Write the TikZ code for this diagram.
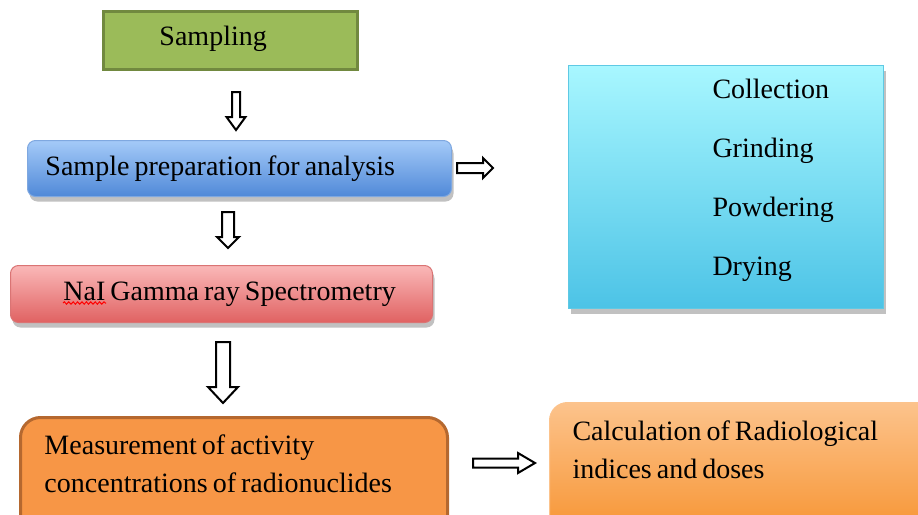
\documentclass[tikz,border=0pt]{standalone}
\usepackage{fontspec}
\setmainfont{Liberation Serif}
\usetikzlibrary{calc,shadows,decorations.pathmorphing}
\definecolor{sampfill}{HTML}{9BBB59}
\definecolor{sampedge}{HTML}{71893F}
\definecolor{preptop}{HTML}{A4CAF8}
\definecolor{prepbot}{HTML}{5089D8}
\definecolor{prepedge}{HTML}{7FA8E0}
\definecolor{naitop}{HTML}{FAB8B8}
\definecolor{naibot}{HTML}{E06262}
\definecolor{naiedge}{HTML}{DA7474}
\definecolor{measfill}{HTML}{F79646}
\definecolor{measedge}{HTML}{B5682F}
\definecolor{colltop}{HTML}{A8F7FF}
\definecolor{collbot}{HTML}{4CC3E6}
\definecolor{colledge}{HTML}{5FC9E4}
\definecolor{calctop}{HTML}{FCC38C}
\definecolor{calcbot}{HTML}{F7922E}
\newcommand\blockarrow[5]{%
  \draw[hollow] let \p1=($(#2)-(#1)$), \n1={veclen(\x1,\y1)}, \n2={atan2(\y1,\x1)} in
    [shift={(#1)}, rotate=\n2] (0pt,#3) -- ({\n1*1pt-#5},#3) -- ({\n1*1pt-#5},#4)
    -- ({\n1*1pt},0pt) -- ({\n1*1pt-#5},-#4) -- ({\n1*1pt-#5},-#3) -- (0pt,-#3) -- cycle;}
\begin{document}
\begin{tikzpicture}[x=.5pt,y=-.5pt,
  every node/.style={font=\fontsize{14}{18.75}\selectfont, inner sep=0pt, anchor=north west},
  box/.style n args={4}{text width=#1pt, text height=#2pt, text depth=#3pt,
    execute at begin node={\raggedright\leftskip=#4pt\relax\spaceskip=.18em plus .1em minus .05em\relax}},
  lift/.style={drop shadow={shadow xshift=1pt, shadow yshift=-2.5pt, opacity=.35, fill=black!70}},
  hollow/.style={draw, fill=white, line width=1pt, line join=miter},
  squiggle/.style={red, line width=.5pt, decorate, decoration={snake, amplitude=.6pt, segment length=2.2pt}}]
  \useasboundingbox (0,0) rectangle (918,515);
  \node[box={127}{17}{12}{28}, fill=sampfill, draw=sampedge, line width=1.5pt] (samp) at (102,10) {Sampling};
  \node[box={212}{17.5}{10.5}{9}, rounded corners=4pt, lift, top color=preptop, bottom color=prepbot,
    draw=prepedge, line width=.5pt] (prep) at (27,140) {Sample preparation for analysis};
  \node[box={211}{17.5}{11}{26.5}, rounded corners=4pt, lift, top color=naitop, bottom color=naibot,
    draw=naiedge, line width=.5pt] (nai) at (10,265) {NaI Gamma ray Spectrometry};
  \node[box={213.5}{18.5}{43.5}{12}, rounded corners=10pt, fill=measfill, draw=measedge,
    line width=1.5pt] (meas) at (19,416) {Measurement of activity\\concentrations of radionuclides};
  \node[box={157.5}{16.5}{105}{72}, font=\fontsize{14}{29.5}\selectfont, lift, top color=colltop,
    bottom color=collbot, draw=colledge, line width=.5pt] (coll) at (568,65)
    {Collection\\Grinding\\Powdering\\Drying};
  \node[box={193}{19}{50}{11.5}, rounded corners=9pt, lift, top color=calctop, bottom color=calcbot,
    draw=calctop, line width=.5pt] (calc) at (549,402) {Calculation of Radiological\\indices and doses};
  \draw[squiggle] ([shift={(53,38)}]nai.north west) -- ++(43,0);
  \coordinate (s2p) at (236,92);  \coordinate (s2pe) at (236,130);
  \coordinate (p2n) at (228,212); \coordinate (p2ne) at (228,248);
  \coordinate (n2m) at (223,342); \coordinate (n2me) at (223,403);
  \coordinate (p2c) at (457,168); \coordinate (p2ce) at (493,168);
  \coordinate (m2c) at (473,463); \coordinate (m2ce) at (535,463);
  \blockarrow{s2p}{s2pe}{2pt}{4.75pt}{6.5pt}
  \blockarrow{p2n}{p2ne}{3pt}{5.5pt}{5.5pt}
  \blockarrow{n2m}{n2me}{3.5pt}{7.5pt}{8pt}
  \blockarrow{p2c}{p2ce}{2.5pt}{5pt}{5pt}
  \blockarrow{m2c}{m2ce}{2.25pt}{5pt}{8.5pt}
\end{tikzpicture}
\end{document}
